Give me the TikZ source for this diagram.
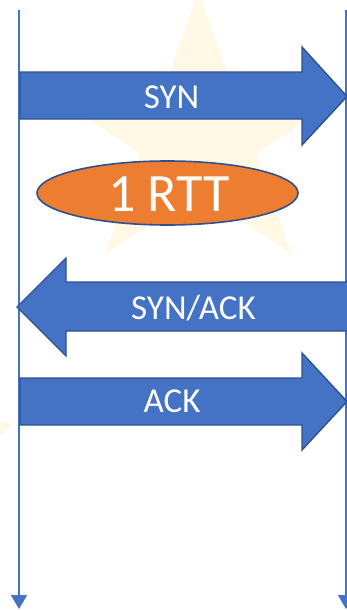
\documentclass[tikz,border=0pt]{standalone}
\usepackage{fontspec}
\setmainfont{Carlito}
\usetikzlibrary{arrows.meta,shapes.geometric}
\definecolor{accblue}{RGB}{68,114,196}
\definecolor{darkblue}{RGB}{47,82,143}
\definecolor{accorange}{RGB}{237,125,49}
\definecolor{starcream}{RGB}{255,248,229}
\tikzset{
  msgarrow/.style={fill=accblue, draw=darkblue, line width=1.4pt, line join=miter},
  msglabel/.style={text=white, font=\fontsize{35}{40}\selectfont, inner sep=0pt},
  lifeline/.style={draw=accblue, -{Triangle[width=16pt,length=14pt]}},
}
\begin{document}
\begin{tikzpicture}[x=1pt,y=-1pt]
\useasboundingbox (0,0) rectangle (347,610);
% faint background star
\fill[starcream]
  (198.5,-8.5) -- (234.2,91.8) -- (349.5,91.8) -- (256.2,153.7)
  -- (292,254) -- (198.5,192) -- (105,254) -- (140.8,153.7)
  -- (47.5,91.8) -- (162.8,91.8) -- cycle;
\fill[starcream] (0,421) -- (12,424) -- (0,436) -- cycle;
% lifelines
\coordinate (ltop) at (19,10);
\coordinate (lbot) at (19,609);
\coordinate (rtop) at (346,10);
\coordinate (rbot) at (346,609);
\draw[lifeline, line width=1.8pt] (ltop) -- (lbot);
\draw[lifeline, line width=1.2pt] (rtop) -- (rbot);
% SYN arrow
\draw[msgarrow] (20,72) -- (302,72) -- (302,47) -- (347,96.5) -- (302,145) -- (302,119) -- (20,119) -- cycle;
\node[msglabel] (syn) at (171.5,97) {SYN};
% 1 RTT
\node[ellipse, draw=darkblue, line width=1.6pt, fill=accorange, minimum width=261pt, minimum height=64pt, inner sep=0pt] (rtt) at (167.5,193) {};
\node[text=white, font=\fontsize{54}{60}\selectfont, inner sep=0pt] (rttlabel) at (169,194.5) {1 RTT};
% SYN/ACK arrow
\draw[msgarrow] (348,282) -- (66,282) -- (66,258) -- (17,307) -- (66,356) -- (66,331) -- (348,331);
\node[msglabel] (synack) at (193.5,308) {SYN/ACK};
% ACK arrow
\draw[msgarrow] (20,378) -- (302,378) -- (302,353) -- (347,401.5) -- (302,450) -- (302,425) -- (20,425) -- cycle;
\node[msglabel] (ack) at (172,401.5) {ACK};
\end{tikzpicture}
\end{document}
